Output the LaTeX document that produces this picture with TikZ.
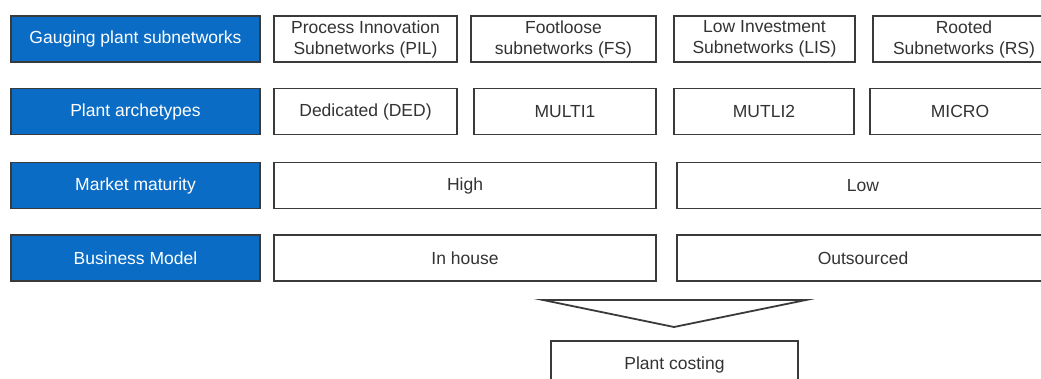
\documentclass[tikz,border=0pt]{standalone}
\usepackage{fontspec}
\setmainfont{Liberation Sans}
\definecolor{hdrblue}{HTML}{0A6CC4}
\definecolor{edge}{HTML}{3A3A3A}
\definecolor{txt}{HTML}{333333}
\begin{document}
\begin{tikzpicture}[x=1pt,y=-1pt,
  box/.style={draw=edge,line width=1.8pt,rectangle,inner sep=0pt,minimum height=46pt,
    font=\fontsize{17.5}{21}\selectfont,text=txt,align=center},
  hdr/.style={box,fill=hdrblue,text=white,minimum width=249pt},
  cell/.style={box,fill=white}]
\useasboundingbox (0,0) rectangle (1041,379);
\clip (0,0) rectangle (1041,379);
% header column
\node[hdr] (h1) at (135.5,39) {Gauging plant subnetworks};
\node[hdr] (h2) at (135.5,111.5) {Plant archetypes};
\node[hdr] (h3) at (135.5,185.5) {Market maturity};
\node[hdr] (h4) at (135.5,258) {Business Model};
% row 1
\node[cell,minimum width=183pt] (pil) at (365.5,39) {Process Innovation\\Subnetworks (PIL)};
\node[cell,minimum width=185pt] (fs) at (563.5,39) {Footloose\\subnetworks (FS)};
\node[cell,minimum width=181pt] (lis) at (764.5,39) {Low Investment\\Subnetworks (LIS)};
\node[cell,minimum width=182pt] (rs) at (964,39) {Rooted\\Subnetworks (RS)};
% row 2
\node[cell,minimum width=183pt] (ded) at (365.5,111.5) {Dedicated (DED)};
\node[cell,minimum width=182pt] (m1) at (565,111.5) {MULTI1};
\node[cell,minimum width=180pt] (m2) at (764,111.5) {MUTLI2};
\node[cell,minimum width=180pt] (micro) at (960,111.5) {MICRO};
% row 3
\node[cell,minimum width=382pt] (high) at (465,185.5) {High};
\node[cell,minimum width=372pt] (low) at (863,185.5) {Low};
% row 4
\node[cell,minimum width=382pt] (inh) at (465,258) {In house};
\node[cell,minimum width=372pt] (out) at (863,258) {Outsourced};
% funnel arrow
\coordinate (tl) at (543,300);
\coordinate (tr) at (806,300);
\coordinate (tip) at (674,327);
\draw[edge,line width=1.8pt,line join=miter] (tl) -- (tr) -- (tip) -- cycle;
% result
\node[cell,minimum width=247pt,minimum height=48pt] (cost) at (674.5,365) {Plant costing};
\end{tikzpicture}
\end{document}
